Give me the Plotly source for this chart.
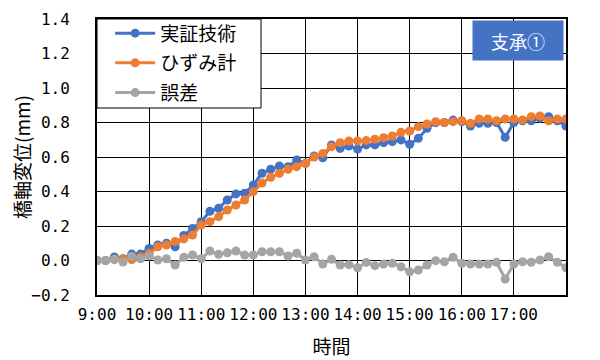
import plotly.graph_objects as go

# 10-minute samples from 9:00 to 18:00 (hours)
times = [9 + i / 6 for i in range(55)]

jissho = [0.00, 0.00, 0.02, 0.01, 0.037, 0.037, 0.07, 0.09, 0.10, 0.08,
          0.145, 0.186, 0.225, 0.285, 0.303, 0.351, 0.386, 0.39, 0.438, 0.506,
          0.529, 0.548, 0.544, 0.583, 0.563, 0.606, 0.595, 0.67, 0.65, 0.664,
          0.646, 0.67, 0.67, 0.683, 0.689, 0.699, 0.674, 0.708, 0.766, 0.799,
          0.80, 0.814, 0.805, 0.78, 0.795, 0.795, 0.80, 0.714, 0.80, 0.81,
          0.81, 0.825, 0.834, 0.81, 0.78]

hizumi = [0.00, 0.00, 0.005, 0.01, 0.005, 0.02, 0.04, 0.08, 0.09, 0.11,
          0.125, 0.148, 0.206, 0.225, 0.254, 0.293, 0.322, 0.351, 0.399, 0.449,
          0.482, 0.506, 0.529, 0.544, 0.563, 0.60, 0.621, 0.66, 0.683, 0.693,
          0.693, 0.695, 0.703, 0.712, 0.722, 0.743, 0.751, 0.776, 0.791, 0.805,
          0.80, 0.805, 0.81, 0.795, 0.82, 0.82, 0.81, 0.82, 0.82, 0.814,
          0.834, 0.838, 0.81, 0.82, 0.82]

gosa = [0.0, 0.0, 0.009, -0.009, 0.024, 0.01, 0.026, 0.003, 0.01, -0.026,
        0.019, 0.032, 0.01, 0.055, 0.036, 0.045, 0.055, 0.032, 0.032, 0.051,
        0.051, 0.051, 0.026, 0.042, 0.003, 0.022, -0.02, 0.007, -0.026, -0.024,
        -0.042, -0.011, -0.03, -0.02, -0.016, -0.036, -0.065, -0.055, -0.026, -0.001,
        -0.007, 0.019, -0.016, -0.02, -0.02, -0.02, -0.01, -0.107, -0.02, -0.007,
        -0.01, 0.003, 0.022, -0.01, -0.042]

tick_vals = [9, 10, 11, 12, 13, 14, 15, 16, 17]
tick_text = ["9:00", "10:00", "11:00", "12:00", "13:00", "14:00", "15:00", "16:00", "17:00"]

series = [("実証技術", jissho, "#4472C4"),
          ("ひずみ計", hizumi, "#ED7D31"),
          ("誤差", gosa, "#A5A5A5")]

FONT = "Noto Sans CJK JP"
MONO = "DejaVu Sans Mono"

fig = go.Figure()
for name, vals, col in series:
    fig.add_trace(go.Scatter(x=times, y=vals, name=name, mode="lines+markers",
                             legendgroup=name,
                             line=dict(color=col, width=3),
                             marker=dict(color=col, size=9)))

# the page body adds an 8px offset; size the figure so the plot lands as in the reference
fig.update_layout(
    width=592, height=352,
    margin=dict(l=89, r=34, t=11, b=65, autoexpand=False),
    paper_bgcolor="white", plot_bgcolor="white",
    font=dict(family=FONT, color="black", size=15),
    showlegend=True,
    legend=dict(x=0.028, y=1.017, xanchor="left", yanchor="top",
                bgcolor="rgba(0,0,0,0)", borderwidth=0,
                font=dict(size=19, family=FONT), tracegroupgap=2,
                itemwidth=40),
    xaxis=dict(range=[9, 18], tickvals=tick_vals, ticktext=tick_text,
               showgrid=True, gridcolor="black", gridwidth=1,
               showline=True, linecolor="black", linewidth=2, mirror=True,
               zeroline=False, ticks="", ticklabelstandoff=4, automargin=False,
               tickfont=dict(size=16, family=MONO),
               title=dict(text="時間", font=dict(size=19), standoff=17)),
    yaxis=dict(range=[-0.2, 1.4], dtick=0.2, tick0=-0.2, tickformat=".1f",
               showgrid=True, gridcolor="black", gridwidth=1,
               showline=True, linecolor="black", linewidth=2, mirror=True,
               zeroline=False, ticks="", ticklabelstandoff=22, automargin=False,
               tickfont=dict(size=16, family=MONO),
               title=dict(text="橋軸変位(mm)", font=dict(size=19), standoff=2)),
)

# legend box
fig.add_shape(type="rect", xref="paper", yref="paper",
              x0=0, x1=(261 - 97) / 469, y0=(295 - 108) / 276, y1=1,
              fillcolor="white", line=dict(color="black", width=1), layer="above")

fig.add_annotation(xref="paper", yref="paper",
                   x=(518 - 97) / 469, y=(295 - 40.5) / 276,
                   xanchor="center", yanchor="middle",
                   text="支承①", showarrow=False,
                   font=dict(size=18, color="white", family=FONT),
                   bgcolor="#4472C4", width=88, height=37, borderpad=1)

fig.write_html("out.html")
